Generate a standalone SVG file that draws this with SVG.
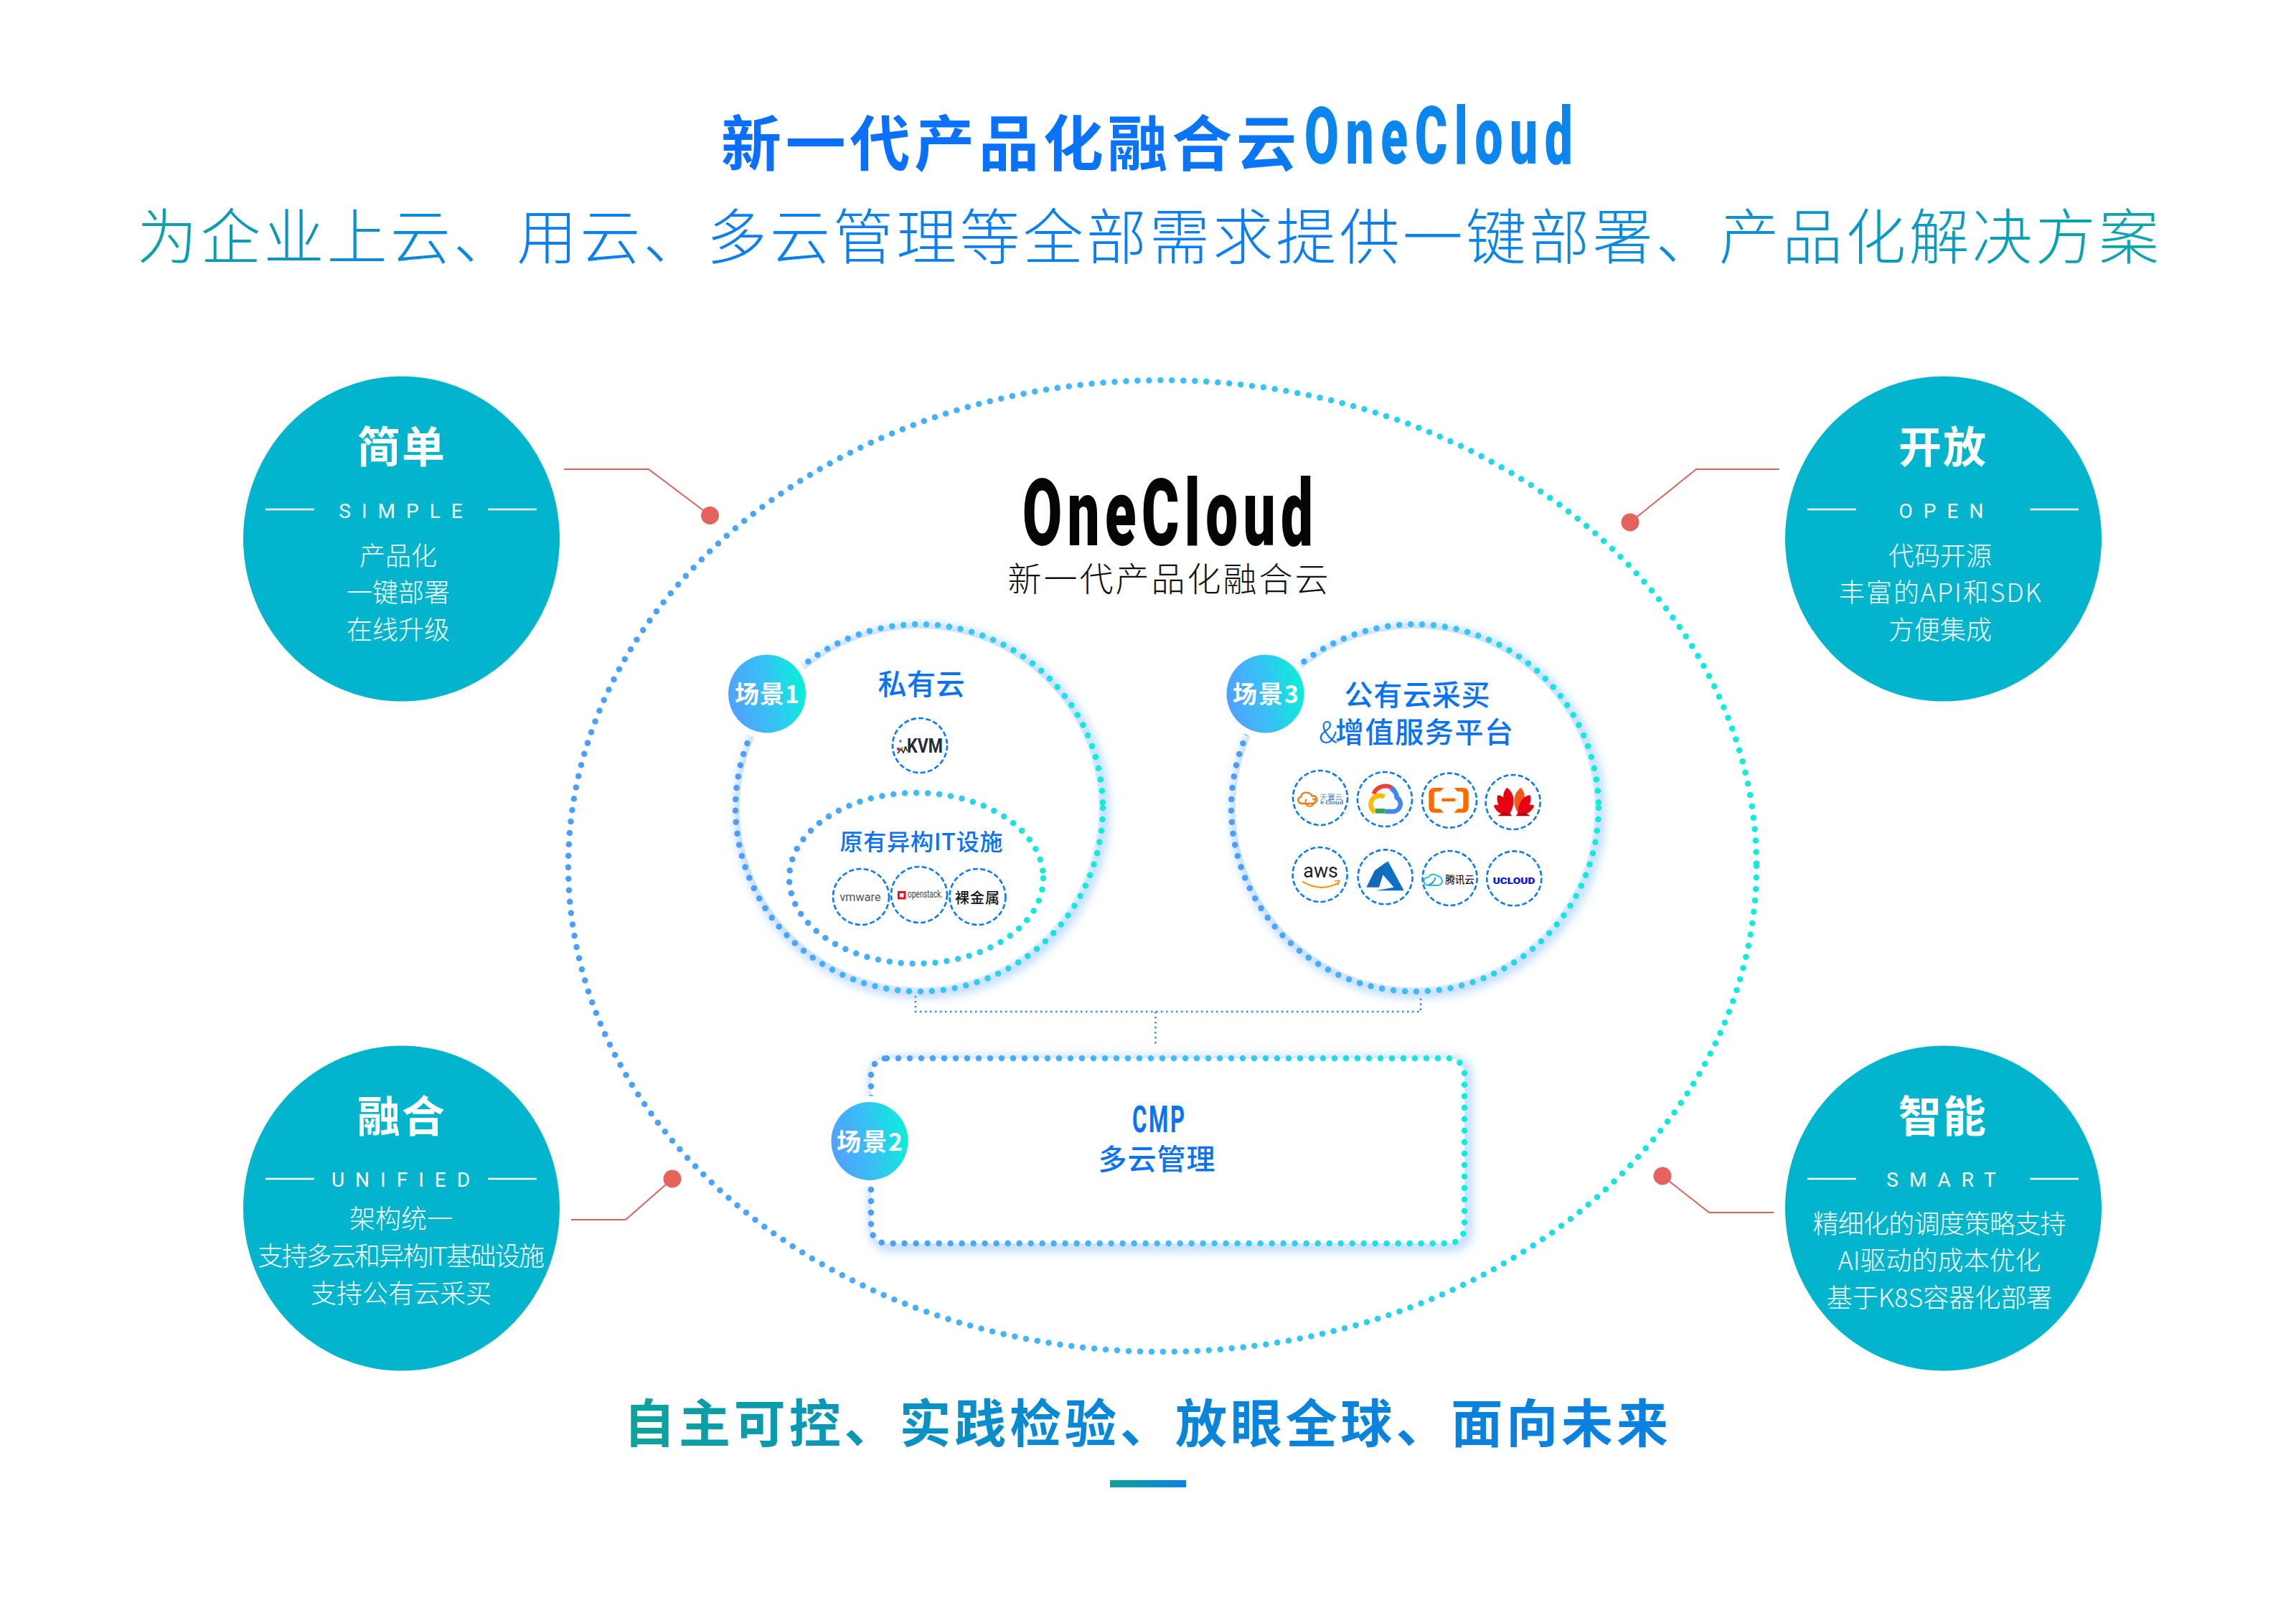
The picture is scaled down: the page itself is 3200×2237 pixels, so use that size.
<svg xmlns="http://www.w3.org/2000/svg" width="3200" height="2237" viewBox="0 0 3200 2237">
<defs>
<linearGradient id="ring" x1="0" y1="0" x2="1" y2="0"><stop offset="0" stop-color="#4b9dff"/><stop offset="0.5" stop-color="#3fbcfb"/><stop offset="1" stop-color="#0ceedb"/></linearGradient>
<linearGradient id="badge" x1="0" y1="0.6" x2="1" y2="0.4"><stop offset="0" stop-color="#52a0ff"/><stop offset="0.5" stop-color="#38c0f5"/><stop offset="1" stop-color="#08f0d8"/></linearGradient>
<linearGradient id="head" gradientUnits="userSpaceOnUse" x1="1008" y1="0" x2="2192" y2="0"><stop offset="0" stop-color="#0a6ffc"/><stop offset="0.6" stop-color="#0a74f8"/><stop offset="1" stop-color="#0a88ee"/></linearGradient>
<linearGradient id="sub" gradientUnits="userSpaceOnUse" x1="194" y1="0" x2="3008" y2="0"><stop offset="0" stop-color="#0ca2a8"/><stop offset="0.2" stop-color="#0a7ff2"/><stop offset="0.62" stop-color="#0a7ff2"/><stop offset="1" stop-color="#0ba6aa"/></linearGradient>
<linearGradient id="motto" gradientUnits="userSpaceOnUse" x1="873" y1="0" x2="2323" y2="0"><stop offset="0" stop-color="#0ca39c"/><stop offset="0.45" stop-color="#0a86d8"/><stop offset="1" stop-color="#0a80e0"/></linearGradient>
<linearGradient id="bar" x1="0" y1="0" x2="1" y2="0"><stop offset="0" stop-color="#0ca39c"/><stop offset="1" stop-color="#0a80e8"/></linearGradient>
<filter id="blur" x="-15%" y="-15%" width="130%" height="130%"><feGaussianBlur stdDeviation="7"/></filter>
</defs>
<style>
text{font-family:"Noto Sans CJK SC","Noto Sans",sans-serif;text-anchor:middle}
.latin{font-family:"Roboto","Liberation Sans",sans-serif}
.dots{fill:none;stroke:url(#ring);stroke-width:8.5;stroke-linecap:round;stroke-dasharray:0 16}
.glow{fill:none;stroke:#4d9dff;stroke-opacity:.45;stroke-width:12;filter:url(#blur)}
.logo{fill:#fff;stroke:#0a7bf5;stroke-width:2.6;stroke-dasharray:7 3.4}
.big{fill:#02b5cc}
.t1{fill:#fff;font-size:60px;font-weight:700}
.t2{fill:#fff;font-size:28px;font-family:"Roboto",sans-serif;letter-spacing:15px}
.t3{fill:#fff;font-size:36px;font-weight:300}
.rule{stroke:#fff;stroke-width:2.4}
.blue{fill:#0a72f5}
.b40{font-size:40px;font-weight:500}
.bt{fill:#fff;font-size:34px;font-weight:700}
.halo{fill:#fff}
.lead{fill:none;stroke:#e2605b;stroke-width:2}
.red{fill:#e4635d}
.link{fill:none;stroke:#3c86f2;stroke-width:2.5;stroke-dasharray:2.5 4.5}
</style>
<rect width="3200" height="2237" fill="#fff"/>

<g id="title">
<text x="1406" y="231" font-size="84" font-weight="700" fill="url(#head)" textLength="802">新一代产品化融合云</text>
<text class="latin" transform="translate(2005 228) scale(.62 1)" font-size="112" font-weight="900" fill="#0a86ee" textLength="603">OneCloud</text>
<text x="1600" y="361" font-size="84" font-weight="300" fill="url(#sub)" textLength="2818">为企业上云、用云、多云管理等全部需求提供一键部署、产品化解决方案</text>
</g>

<g id="outer-ring"><ellipse class="dots" cx="1620" cy="1207" rx="828" ry="677"/></g>

<g id="connectors">
<path class="link" d="M1276 1388V1410H1980V1388"/>
<path class="link" d="M1610.500 1410V1455"/>
<path class="lead" d="M786 654H904L989 718"/>
<path class="lead" d="M2480 654H2364L2272 728"/>
<path class="lead" d="M796 1700H872L937 1643"/>
<path class="lead" d="M2472 1690H2382L2317 1639"/>
<circle class="red" cx="989.500" cy="718.500" r="12.500"/>
<circle class="red" cx="2272" cy="728" r="12.500"/>
<circle class="red" cx="937" cy="1643" r="12.500"/>
<circle class="red" cx="2317" cy="1639" r="12.500"/>
</g>

<g id="heading">
<text class="latin" transform="translate(1627.500 760) scale(.62 1)" font-size="129" font-weight="900" fill="#050505" textLength="653">OneCloud</text>
<text x="1628" y="824" font-size="47" font-weight="300" fill="#111" textLength="447">新一代产品化融合云</text>
</g>

<g id="node-simple"><ellipse class="big" cx="559.500" cy="751" rx="220.500" ry="226.500"/>
<text class="t1" x="559" y="645" textLength="122">简单</text>
<path class="rule" d="M370 710H438M680 710H748"/>
<text class="t2" x="566" y="722">SIMPLE</text>
<text class="t3" x="555" y="788">产品化</text><text class="t3" x="555" y="839">一键部署</text><text class="t3" x="555" y="891">在线升级</text></g>

<g id="node-open"><ellipse class="big" cx="2708.500" cy="751" rx="220.500" ry="226.500"/>
<text class="t1" x="2707" y="645" textLength="122">开放</text>
<path class="rule" d="M2519 710H2587M2829 710H2897"/>
<text class="t2" x="2713" y="722">OPEN</text>
<text class="t3" x="2704" y="788">代码开源</text><text class="t3" x="2704" y="839" textLength="282">丰富的API和SDK</text><text class="t3" x="2704" y="891">方便集成</text></g>

<g id="node-unified"><ellipse class="big" cx="559.500" cy="1684" rx="220.500" ry="226.500"/>
<text class="t1" x="559" y="1578" textLength="122">融合</text>
<path class="rule" d="M370 1643H438M680 1643H748"/>
<text class="t2" x="566" y="1654">UNIFIED</text>
<text class="t3" x="559" y="1712">架构统一</text><text class="t3" x="559" y="1764" textLength="400">支持多云和异构IT基础设施</text><text class="t3" x="559" y="1816">支持公有云采买</text></g>

<g id="node-smart"><ellipse class="big" cx="2708.500" cy="1684" rx="220.500" ry="226.500"/>
<text class="t1" x="2707" y="1578" textLength="122">智能</text>
<path class="rule" d="M2519 1643H2587M2829 1643H2897"/>
<text class="t2" x="2713" y="1654">SMART</text>
<text class="t3" x="2703" y="1719" textLength="353">精细化的调度策略支持</text><text class="t3" x="2703" y="1770">AI驱动的成本优化</text><text class="t3" x="2703" y="1822">基于K8S容器化部署</text></g>

<g id="node-private">
<ellipse class="glow" cx="1285" cy="1130" rx="254" ry="254"/>
<ellipse cx="1281" cy="1126" rx="250" ry="250" fill="#fff"/>
<ellipse class="dots" cx="1281" cy="1126" rx="256" ry="256"/>
<ellipse class="halo" cx="1069" cy="967" rx="62" ry="63"/>
<ellipse cx="1069" cy="967" rx="54" ry="54.500" fill="url(#badge)"/>
<text class="bt" x="1069" y="980" textLength="90">场景1</text>
<text class="blue b40" x="1284" y="968" textLength="121">私有云</text>
<circle class="logo" cx="1282" cy="1039" r="38"/>
<text class="latin" x="1289" y="1049" font-size="27" font-weight="700" fill="#2a2a35" textLength="50" lengthAdjust="spacingAndGlyphs">KVM</text>
<circle cx="1252" cy="1044" r="2.200" fill="#c4246c"/><circle cx="1255" cy="1033" r="1.800" fill="#1788c8"/><circle cx="1262" cy="1042" r="2.200" fill="#7cb82f"/><circle cx="1257" cy="1043" r="2" fill="#e8b020"/><path d="M1251 1050l5-6 3 5 3-7 3 5" fill="none" stroke="#222" stroke-width="1.500"/>
</g>

<g id="node-legacy">
<ellipse class="dots" cx="1277" cy="1224" rx="177" ry="119"/>
<text class="blue" x="1284" y="1185" font-size="32" font-weight="500" textLength="227">原有异构IT设施</text>
<circle class="logo" cx="1200" cy="1250" r="39"/>
<text class="latin" x="1199" y="1256" font-size="16" fill="#555" textLength="57" lengthAdjust="spacingAndGlyphs">vmware</text>
<circle class="logo" cx="1281" cy="1247" r="39"/>
<rect x="1252.500" y="1243.500" width="8.500" height="8.500" fill="none" stroke="#e8121e" stroke-width="3"/>
<text class="latin" x="1289.500" y="1251" font-size="14" fill="#444" textLength="49" lengthAdjust="spacingAndGlyphs">openstack.</text>
<circle class="logo" cx="1362.500" cy="1250" r="39"/>
<text x="1362" y="1259" font-size="20" font-weight="500" fill="#111" textLength="62">裸金属</text>
</g>

<g id="node-public">
<ellipse class="glow" cx="1976" cy="1130" rx="254" ry="254"/>
<ellipse cx="1972" cy="1126" rx="250" ry="250" fill="#fff"/>
<ellipse class="dots" cx="1972" cy="1126" rx="256" ry="256"/>
<ellipse class="halo" cx="1763.500" cy="967" rx="62" ry="63"/>
<ellipse cx="1763.500" cy="967" rx="54" ry="54.500" fill="url(#badge)"/>
<text class="bt" x="1764" y="980" textLength="92">场景3</text>
<text class="blue b40" x="1975" y="983" textLength="203">公有云采买</text>
<text x="1851" y="1035" font-size="40" font-weight="300" fill="#0a72f5">&amp;</text>
<text class="blue b40" x="1985" y="1035" textLength="248">增值服务平台</text>
<g transform="translate(1750 1040) scale(.33333)">
<g fill="#fff" stroke="#0a7bf5" stroke-width="7.800" stroke-dasharray="21 10">
<circle cx="270" cy="216" r="114"/><circle cx="540" cy="222" r="114"/><circle cx="810" cy="227" r="114"/><circle cx="1076" cy="234" r="114"/>
<circle cx="269" cy="537" r="114"/><circle cx="542" cy="547" r="114"/><circle cx="812" cy="552" r="114"/><circle cx="1081" cy="553" r="114"/>
</g>
<path d="M196 240H240Q258 236 256 220Q252 206 236 208Q226 192 208 194Q192 196 190 212Q176 216 178 228Q180 240 196 240Z" fill="none" stroke="#ee7a1b" stroke-width="7"/>
<path d="M212 222A18 18 0 1 0 244 232M238 218l8 8 6-10" fill="none" stroke="#ee7a1b" stroke-width="6"/>
<text x="316" y="224" font-size="32" font-weight="300" fill="#2a6db5" textLength="96">天翼云</text>
<text class="latin" x="318" y="243" font-size="20" font-weight="500" fill="#2a6db5" textLength="96" lengthAdjust="spacingAndGlyphs">e Cloud</text>
<path d="M493 200A52 52 0 0 1 578 182" fill="none" stroke="#ea4335" stroke-width="18"/>
<path d="M565 175Q590 190 590 214A32 32 0 0 1 578 273H542" fill="none" stroke="#4285f4" stroke-width="20"/>
<path d="M542 271H500" fill="none" stroke="#34a853" stroke-width="20"/>
<path d="M538 212A34 34 0 1 0 499 275" fill="none" stroke="#fbbc04" stroke-width="20"/>
<path d="M786 174H748Q724 174 724 198V254Q724 278 748 278H786L772 262H756Q746 262 746 252V200Q746 190 756 190H772Z" fill="#ff6a00"/>
<path d="M830 174H866Q890 174 890 198V254Q890 278 866 278H830L844 262H858Q868 262 868 252V200Q868 190 858 190H844Z" fill="#ff6a00"/>
<rect x="778" y="218" width="57" height="13" fill="#ff6a00"/>
<g fill="#e60012">
<path d="M0 0C-30-40-26-85 0-105C26-85 30-40 0 0" transform="translate(1065 278) rotate(-8)"/>
<path d="M0 0C-30-40-26-85 0-105C26-85 30-40 0 0" fill="#ef5a1c" transform="translate(1095 278) rotate(8)"/>
<path d="M0 0C-26-35-24-72 0-92C24-72 26-35 0 0" transform="translate(1062 282) rotate(-33)"/>
<path d="M0 0C-26-35-24-72 0-92C24-72 26-35 0 0" transform="translate(1098 282) rotate(33)"/>
<path d="M0 0C-22-30-22-62 0-82C22-62 22-30 0 0" transform="translate(1068 286) rotate(-62)"/>
<path d="M0 0C-22-30-22-62 0-82C22-62 22-30 0 0" transform="translate(1092 286) rotate(62)"/>
<path d="M1074 292H1012Q1040 268 1074 292ZM1086 292H1148Q1120 268 1086 292Z" fill="#b50010"/>
</g>
<text class="latin" x="272" y="548" font-size="84" fill="#1a1e26" textLength="146" lengthAdjust="spacingAndGlyphs">aws</text>
<path d="M196 566Q270 612 346 572" fill="none" stroke="#f79400" stroke-width="6"/>
<path d="M330 564L350 562L344 582" fill="none" stroke="#f79400" stroke-width="5"/>
<path d="M550 482L498 520L463 590H516Z" fill="#1468b8"/>
<path d="M553 480L620 604H503L578 590L527 532Z" fill="#0f6fc6"/>
<path d="M703 565Q705 548 722 548Q736 528 756 540Q775 545 780 562Q780 582 760 582H726Q706 582 703 565Z" fill="none" stroke="#1cc4d0" stroke-width="6"/>
<path d="M722 580Q745 575 752 548" fill="none" stroke="#1d9ef0" stroke-width="6"/>
<text x="854" y="574" font-size="41" font-weight="500" fill="#1a1a1a" textLength="122">腾讯云</text>
<text class="latin" x="1080" y="575" font-size="41" font-weight="900" fill="#0f0fd8" textLength="176" lengthAdjust="spacingAndGlyphs">UCLOUD</text>
</g>
</g>

<g id="node-cmp">
<rect class="glow" x="1218" y="1479" width="827" height="258" rx="22"/>
<rect x="1214" y="1475" width="827" height="258" rx="22" fill="#fff"/>
<rect class="dots" x="1214" y="1475" width="827" height="258" rx="22"/>
<ellipse class="halo" cx="1212" cy="1590.500" rx="62" ry="63"/>
<ellipse cx="1212" cy="1590.500" rx="53.500" ry="54.500" fill="url(#badge)"/>
<text class="bt" x="1212" y="1604" textLength="92">场景2</text>
<text class="latin blue" transform="translate(1614.500 1578) scale(.6 1)" font-size="52" font-weight="700" textLength="122">CMP</text>
<text class="blue b40" x="1612" y="1630" textLength="163">多云管理</text>
</g>

<g id="motto">
<text x="1597" y="2010" font-size="72" font-weight="700" fill="url(#motto)" textLength="1456">自主可控、实践检验、放眼全球、面向未来</text>
<rect x="1547" y="2063" width="106" height="10" fill="url(#bar)"/>
</g>
</svg>
